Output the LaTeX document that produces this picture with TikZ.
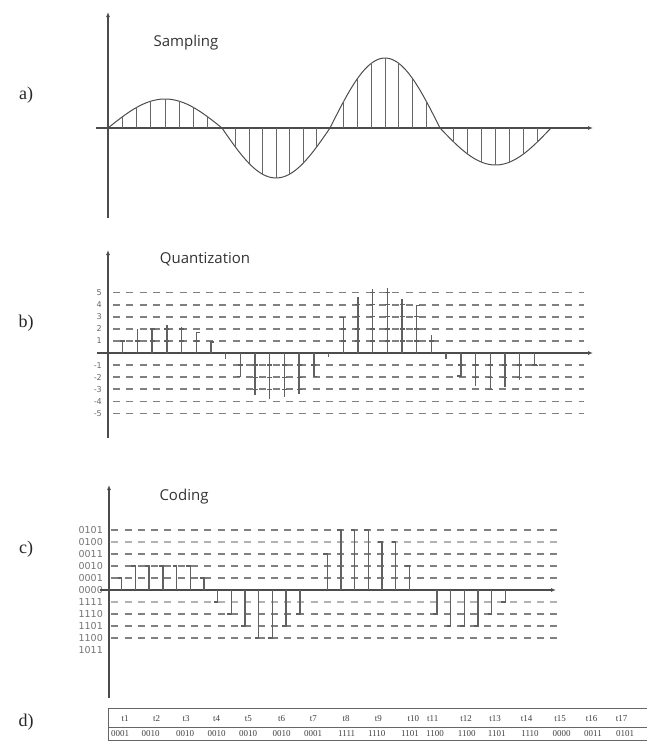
\documentclass[tikz,border=0pt]{standalone}
\usepackage{fontspec}
\setmainfont{Liberation Serif}
\newfontfamily\titlefont{Open Sans}
\newfontfamily\lvlfont{DejaVu Sans}
\usetikzlibrary{arrows.meta}

\begin{document}
\begin{tikzpicture}[x=1pt,y=-1pt,
    axis/.style={draw=black!70,line width=1.1pt,-{Latex[length=5pt,width=4pt]}},
    level/.style={draw=black!50,line width=1.8pt,dash pattern=on 7pt off 6.3pt},
    lightlevel/.style={level,draw=black!30},
    bar/.style={draw=black!62,line width=1.4pt},
    sample/.style={draw=black!60,line width=0.8pt},
    wave/.style={draw=black!70,line width=1pt},
    panel/.style={font=\fontsize{18}{18}\selectfont,text=black!85},
    title/.style={font=\titlefont\fontsize{15}{15}\selectfont,text=black!80},
    lvl/.style={font=\lvlfont\fontsize{8}{8}\selectfont,text=black!60,anchor=east,inner sep=1pt},
    cell/.style={font=\fontsize{9}{9}\selectfont,text=black!75,inner sep=0pt}
]
\useasboundingbox (0,0) rectangle (647,742);

% a) sampling
\node[panel] (pa) at (26,95) {a)};
\node[title] (ta) at (186,43) {Sampling};
\draw[axis] (108,218) -- (108,12);
\draw[axis] (96,128) -- (593,128);
\foreach \xa/\xb/\amp in {108/222/29,222/330/-50,330/440/70,440/551/-37}{
  \draw[wave] plot[domain=\xa:\xb,samples=40] (\x,{128-\amp*sin(180/(\xb-\xa)*(\x-\xa))});
  \foreach \j in {1,...,7}
    \draw[sample] ({\xa+\j*(\xb-\xa)/8},128) -- ({\xa+\j*(\xb-\xa)/8},{128-\amp*sin(22.5*\j)});
}

% b) quantization
\node[panel] (pb) at (26,323) {b)};
\node[title] (tb) at (205,259) {Quantization};
\draw[axis] (108,438) -- (108,250);
\foreach \lv [count=\i] in {-5,-4,-3,-2,-1,1,2,3,4,5}{
  \draw[level] (113,{353-12.1*\lv}) -- (584,{353-12.1*\lv});
  \node[lvl] (lb\i) at (103,{353-12.1*\lv}) {\lv};
}
\draw[axis] (97,353) -- (593,353);
\foreach \qv/\qt [count=\k] in {1.0/0,1.95/0,2.1/0,2.3/0,2.15/0,1.7/1,0.92/1,-0.5/0,
    -1.95/-1,-3.45/0,-3.8/0,-3.6/0,-3.4/0,-1.95/1,-0.3/0,2.95/-1,4.65/0,5.3/0,
    5.4/0,4.5/0,3.95/1,1.45/0,-0.5/0,-1.9/-1,-2.7/0,-3.05/0,-2.85/0,-2.25/0,-1.05/1}{
  \pgfmathsetmacro\xk{108+14.7*\k}
  \pgfmathsetmacro\yk{353-12.1*\qv}
  \draw[bar] (\xk,353) -- (\xk,\yk) -- ++(3.5*\qt,0);
  \pgfmathtruncatemacro\n{abs(\qv)}
  \ifnum\n>0
    \foreach \m in {1,...,\n}
      \draw[bar] ({\xk-2.5},{353-12.1*sign(\qv)*\m}) -- ++(5,0);
  \fi
}

% c) coding
\node[panel] (pc) at (26,549) {c)};
\node[title] (tc) at (184,497) {Coding};
\draw[axis] (109,698) -- (109,485);
\foreach \lv/\code [count=\i] in {5/0101,4/0100,3/0011,2/0010,1/0001,0/0000,
    -1/1111,-2/1110,-3/1101,-4/1100,-5/1011}{
  \node[lvl,font=\lvlfont\fontsize{9.5}{9.5}\selectfont,text=black!55] (lc\i) at (104,{590-12*\lv}) {\code};
}
\foreach \lv in {5,3,2,1,-2,-3,-4}
  \draw[level] (111.2,{590-12*\lv}) -- (558,{590-12*\lv});
\foreach \lv in {4,-1}
  \draw[lightlevel] (111.2,{590-12*\lv}) -- (558,{590-12*\lv});
\draw[axis] (100,590) -- (556,590);
\foreach \cv [count=\k] in {1,2,2,2,2,2,1,-1,-2,-3,-4,-4,-3,-2,0,
    3,5,5,5,4,4,2,0,-2,-3,-3,-3,-2,-1}{
  \ifnum\cv=0\else
    \draw[bar] ({108+13.7*\k},590) -- ({108+13.7*\k},{590-12*\cv}) -- ++(-4,0);
  \fi
}

% d) code table
\node[panel] (pd) at (26,722) {d)};
\draw[black!60,line width=0.9pt] (647,708) -- (108.5,708) -- (108.5,740) -- (647,740);
\draw[black!60,line width=0.7pt] (108.5,727) -- (647,727);
\foreach \tx/\cx/\code [count=\i] in {125/120/0001,156.7/150.5/0010,186/185/0010,
    216.7/216.7/0010,248.3/248/0010,281.7/281.7/0010,313.3/313/0001,346/346.7/1111,
    378.3/376.7/1110,413.3/410/1101,432.7/435/1100,466/466.7/1100,495/496.7/1101,
    526.7/530/1110,560/561.7/0000,591.7/593/0011,621.7/625/0101}{
  \node[cell] (t\i) at (\tx,719) {t\i};
  \node[cell] (c\i) at (\cx,734) {\code};
}
\end{tikzpicture}
\end{document}
